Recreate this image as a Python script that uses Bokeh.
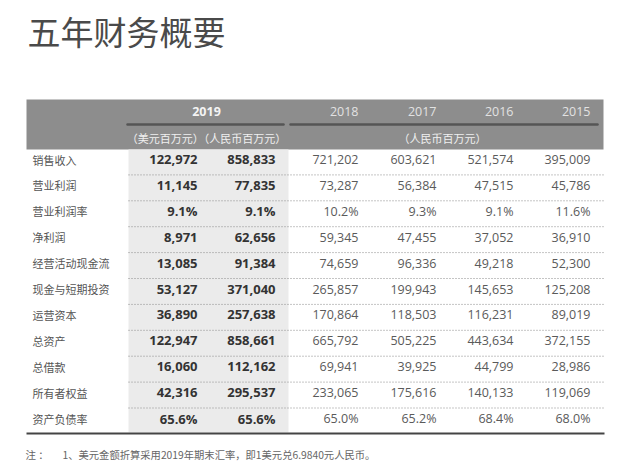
from bokeh.plotting import figure
from bokeh.models import Range1d
from bokeh.core.properties import value
from bokeh.embed import file_html
from bokeh.resources import INLINE

title = "五年财务概要"
labels = ["销售收入", "营业利润", "营业利润率", "净利润", "经营活动现金流", "现金与短期投资",
          "运营资本", "总资产", "总借款", "所有者权益", "资产负债率"]
usd_2019 = ["122,972", "11,145", "9.1%", "8,971", "13,085", "53,127", "36,890", "122,947", "16,060", "42,316", "65.6%"]
rmb_2019 = ["858,833", "77,835", "9.1%", "62,656", "91,384", "371,040", "257,638", "858,661", "112,162", "295,537", "65.6%"]
years = ["2018", "2017", "2016", "2015"]
v2018 = ["721,202", "73,287", "10.2%", "59,345", "74,659", "265,857", "170,864", "665,792", "69,941", "233,065", "65.0%"]
v2017 = ["603,621", "56,384", "9.3%", "47,455", "96,336", "199,943", "118,503", "505,225", "39,925", "175,616", "65.2%"]
v2016 = ["521,574", "47,515", "9.1%", "37,052", "49,218", "145,653", "116,231", "443,634", "44,799", "140,133", "68.4%"]
v2015 = ["395,009", "45,786", "11.6%", "36,910", "52,300", "125,208", "89,019", "372,155", "28,986", "119,069", "68.0%"]
unit_usd_rmb = "（美元百万元）（人民币百万元）"
unit_rmb = "（人民币百万元）"
note_head = "注 ："
notes = ["1、美元金额折算采用2019年期末汇率，即1美元兑6.9840元人民币。"]

CJK = value("Noto Sans CJK SC")
NUM = value("Open Sans")

p = figure(width=632, height=463, output_backend="svg", toolbar_location=None,
           x_range=Range1d(0, 632), y_range=Range1d(463, 0),
           x_axis_location=None, y_axis_location=None, min_border=0)
p.grid.visible = False
p.outline_line_color = None
p.background_fill_color = "white"
p.border_fill_color = "white"

# layout
row0, step = 159, 25.9
row_y = [row0 + i * step for i in range(len(labels))]
col_x = [358, 436, 513, 590]

# title
p.text(x=[27], y=[30], text=[title], text_font=CJK, text_font_size="33px",
       text_color="#4a4a4a", text_baseline="middle", text_align="left")

# header band
p.quad(left=[26], right=[603], top=[99], bottom=[149], fill_color="#8d8d8d", line_color=None)
# 2019 column background
p.quad(left=[128], right=[288], top=[149], bottom=[432], fill_color="#ebebeb", line_color=None)

# header lines
p.segment(x0=[127, 290], y0=[124, 124], x1=[283, 597], y1=[124, 124],
          line_color="#555555", line_width=2.5, line_cap="round")

p.text(x=[206], y=[111], text=["2019"], text_font=NUM, text_font_style="bold",
       text_font_size="12.5px", text_color="#f4f4f4", text_baseline="middle", text_align="center")
p.text(x=col_x, y=[111] * 4, text=years, text_font=NUM, text_font_size="12.5px",
       text_color="#e2e2e2", text_baseline="middle", text_align="right")
p.text(x=[206], y=[137], text=[unit_usd_rmb], text_font=CJK, text_font_size="11px",
       text_color="#f0f0f0", text_baseline="middle", text_align="center")
p.text(x=[442], y=[137], text=[unit_rmb], text_font=CJK, text_font_size="11px",
       text_color="#f0f0f0", text_baseline="middle", text_align="center")

# dotted separators
sep_y = [y - 10.5 for y in row_y[1:]]
p.segment(x0=[128] * len(sep_y), y0=sep_y, x1=[604] * len(sep_y), y1=sep_y,
          line_color="#8a8a8a", line_width=1, line_dash="1 2")
# bottom rule
p.segment(x0=[26], y0=[433], x1=[604], y1=[433], line_color="#444444", line_width=2)

# row labels
p.text(x=[32] * len(labels), y=row_y, text=labels, text_font=CJK, text_font_size="11px",
       text_color="#555555", text_baseline="middle", text_align="left")

# 2019 values
p.text(x=[197] * len(labels), y=row_y, text=usd_2019, text_font=NUM, text_font_style="bold",
       text_font_size="13px", text_color="#333333", text_baseline="middle", text_align="right")
p.text(x=[275] * len(labels), y=row_y, text=rmb_2019, text_font=NUM, text_font_style="bold",
       text_font_size="13px", text_color="#333333", text_baseline="middle", text_align="right")

# other years
for cx, vals in zip(col_x, [v2018, v2017, v2016, v2015]):
    p.text(x=[cx] * len(vals), y=row_y, text=vals, text_font=NUM, text_font_size="12.5px",
           text_color="#5a5a5a", text_baseline="middle", text_align="right")

# notes
p.text(x=[25], y=[454], text=[note_head], text_font=CJK, text_font_size="10.5px",
       text_color="#666666", text_baseline="middle", text_align="left")
p.text(x=[62], y=[454], text=notes, text_font=CJK, text_font_size="10.3px",
       text_color="#666666", text_baseline="middle", text_align="left")

open("out.html", "w").write(file_html(p, INLINE))
